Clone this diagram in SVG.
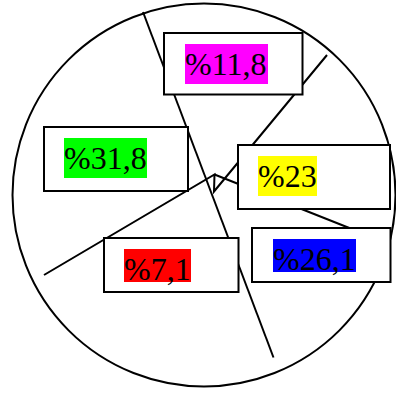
<svg xmlns="http://www.w3.org/2000/svg" width="396" height="393" viewBox="0 0 396 393">
<style>
.ln{fill:none;stroke:#000;stroke-width:2;stroke-linejoin:miter}
.box{fill:#fff;stroke:#000;stroke-width:2}
.t{font-family:"Liberation Serif","Times New Roman",serif;font-size:32px;fill:#000}
</style>
<rect width="396" height="393" fill="#fff"/>
<circle cx="204" cy="195" r="191.5" class="ln"/>
<g id="connectors">
<line class="ln" x1="143" y1="12" x2="273.5" y2="357.5"/>
<polyline class="ln" points="44,275 214.5,174.5 214,191.5 327,55"/>
<line class="ln" x1="214.5" y1="174.5" x2="372" y2="237"/>
</g>
<g id="n1">
<rect class="box" x="164" y="33" width="138.5" height="61.5"/>
<rect x="185" y="44" width="83" height="40" fill="#f0f"/>
<text class="t" x="185" y="74.7">%11,8</text>
</g>
<g id="n2">
<rect class="box" x="44" y="127" width="144" height="64"/>
<rect x="64" y="138" width="83" height="40" fill="#0f0"/>
<text class="t" x="64" y="168.7">%31,8</text>
</g>
<g id="n3">
<rect class="box" x="238" y="145" width="152" height="64"/>
<rect x="258" y="156" width="59" height="40" fill="#ff0"/>
<text class="t" x="258" y="186.7">%23</text>
</g>
<g id="n4">
<rect class="box" x="104" y="238" width="134.5" height="54"/>
<rect x="124" y="249" width="67" height="33" fill="#f00"/>
<text class="t" x="124" y="279.7">%7,1</text>
</g>
<g id="n5">
<rect class="box" x="252" y="228" width="138.5" height="54"/>
<rect x="273" y="239" width="83" height="33" fill="#00f"/>
<text class="t" x="273" y="269.7">%26,1</text>
</g>
</svg>
